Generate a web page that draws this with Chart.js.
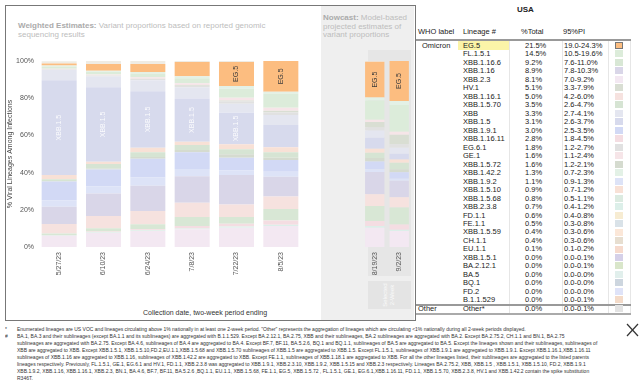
<!DOCTYPE html>
<html><head><meta charset="utf-8">
<script src="https://cdn.jsdelivr.net/npm/chart.js@4.4.0/dist/chart.umd.min.js"></script>
<style>
body{margin:0;width:640px;height:390px;background:#fff;overflow:hidden;font-family:"Liberation Sans",Arial,sans-serif;position:relative;color:#222}
.abs{position:absolute;white-space:nowrap}
.hdr{color:#bdbdbd;font-size:8px;line-height:8.6px}
.hdr b{color:#ababab}
.fn{position:absolute;left:5px;top:326px;width:1270px;height:124px;overflow:hidden;transform:scale(0.5);transform-origin:0 0;font-size:10px;line-height:14px;color:#333}
.fn div{white-space:nowrap;padding-left:24px;position:relative}
.fn span.m{position:absolute;left:0}
</style></head><body>
<div class="abs" style="left:5px;top:5px;width:411px;height:316px;border:1px solid #777;box-sizing:border-box"></div>
<div class="abs" style="left:321px;top:6px;width:93px;height:314px;background:#efefef"></div>
<div class="abs" style="left:368px;top:50px;width:43px;height:226px;background:#e6e6e6"></div>
<div class="abs" style="left:368px;top:281px;width:43px;height:28px;background:#e4e4e4"></div>
<div class="abs" style="left:389px;top:295px;transform:translate(-50%,-50%) rotate(-90deg);font-size:6px;line-height:7px;color:#fafafa;text-align:center">Selected<br>2-Week</div>
<div class="abs hdr" style="left:18px;top:22px"><b>Weighted Estimates:</b> Variant proportions based on reported genomic<br>sequencing results</div>
<div class="abs hdr" style="left:323px;top:14px"><b>Nowcast:</b> Model-based<br>projected estimates of<br>variant proportions</div>
<canvas id="cw" class="abs" style="left:0;top:0" width="318" height="300"></canvas>
<canvas id="cn" class="abs" style="left:321px;top:0" width="92" height="300"></canvas>
<div class="abs" style="left:205px;top:309px;transform:translateX(-50%);font-size:7px;color:#333">Collection date, two-week period ending</div>
<div id="tbl"></div>
<div class="fn" id="fn"></div>
<svg class="abs" style="left:626px;top:323px" width="13" height="14"><line x1="1" y1="1" x2="12" y2="13" stroke="#333" stroke-width="1.2"/><line x1="12" y1="1" x2="1" y2="13" stroke="#333" stroke-width="1.2"/></svg>
<script>
// ---- chart data ----
const weeksWeighted = ['5/27/23','6/10/23','6/24/23','7/8/23','7/22/23','8/5/23'];
const weeksNowcast = ['8/19/23','9/2/23'];
const yTicks = [0,20,40,60,80,100];
// stacked series (bottom to top), 8 periods: 6 weighted + 2 nowcast
const s_XBB_2_3     = [5.9, 7.7, 8.6, 9.5, 10.4, 11.3, 10.4, 8.6];
const s_XBB_2_3_8   = [0.3, 0.3, 0.4, 0.5, 0.6, 0.7, 0.9, 0.7];
const s_XBB_1_16_11 = [0.2, 0.3, 0.5, 1.3, 1.5, 2.3, 2.7, 2.8];
const s_XBB_1_16_6  = [0.9, 1.8, 2.7, 4.8, 3.6, 6.1, 8.0, 9.2];
const s_XBB_1_16_1  = [5.0, 6.6, 7.2, 7.7, 6.8, 6.8, 6.3, 5.4];
const s_XBB_1_16    = [9.3, 12.0, 13.5, 14.2, 15.8, 10.6, 12.0, 8.9];
const s_XBB_1_9_2   = [3.6, 4.0, 4.5, 3.9, 2.5, 2.7, 1.5, 1.1];
const s_XBB_1_9_1   = [10.0, 9.0, 10.0, 9.0, 6.8, 6.3, 4.2, 3.5];
const s_XBB_1_5_72  = [0.3, 0.5, 1.0, 1.3, 1.8, 1.2, 1.8, 1.6];
const s_XBB_1_5_70  = [0.9, 2.4, 2.6, 2.6, 2.7, 2.9, 2.9, 3.5];
const s_XBB_1_5_10  = [2.3, 1.3, 2.3, 1.8, 2.7, 2.7, 2.1, 1.7];
const s_XBB_1_5     = [51.0, 40.0, 30.5, 23.3, 17.0, 12.0, 5.9, 3.1];
const s_XBB         = [5.4, 5.7, 5.9, 5.9, 4.8, 5.4, 3.9, 3.3];
const s_EG_6_1      = [0.3, 0.5, 0.6, 0.8, 1.2, 1.3, 1.6, 1.8];
const s_HV_1        = [0.0, 0.1, 0.2, 0.4, 0.6, 1.0, 3.0, 5.1];
const s_GE_1        = [0.5, 0.6, 0.8, 1.0, 1.5, 1.5, 1.2, 1.6];
const s_FL_1_5_1    = [1.2, 1.4, 2.0, 2.7, 4.8, 7.7, 10.4, 14.5];
const s_XBB_1_42_2  = [0.5, 0.6, 0.8, 1.1, 1.5, 1.0, 1.6, 2.1];
const s_EG_5        = [1.0, 3.6, 4.3, 7.6, 12.9, 16.5, 19.2, 21.5];
const s_Other       = [1.2, 1.6, 1.6, 0.6, 0.5, 0.0, 0.4, 0.0];

// ---- table data ----
const tblLineages = ['EG.5','FL.1.5.1','XBB.1.16.6','XBB.1.16','XBB.2.3','HV.1','XBB.1.16.1','XBB.1.5.70','XBB','XBB.1.5','XBB.1.9.1','XBB.1.16.11','EG.6.1','GE.1','XBB.1.5.72','XBB.1.42.2','XBB.1.9.2','XBB.1.5.10','XBB.1.5.68','XBB.2.3.8','FD.1.1','FE.1.1','XBB.1.5.59','CH.1.1','EU.1.1','XBB.1.5.1','BA.2.12.1','BA.5','BQ.1','FD.2','B.1.1.529','Other*'];
const tblPct = ['21.5%','14.5%','9.2%','8.9%','8.1%','5.1%','5.0%','3.5%','3.3%','3.1%','3.0%','2.8%','1.8%','1.6%','1.6%','1.3%','1.1%','0.9%','0.8%','0.7%','0.6%','0.5%','0.4%','0.4%','0.1%','0.0%','0.0%','0.0%','0.0%','0.0%','0.0%','0.0%'];
const tblPI = ['19.0-24.3%','10.5-19.6%','7.6-11.0%','7.8-10.3%','7.0-9.2%','3.3-7.9%','4.2-6.0%','2.6-4.7%','2.7-4.1%','2.6-3.7%','2.5-3.5%','1.8-4.5%','1.2-2.7%','1.1-2.4%','1.2-2.1%','0.7-2.3%','0.9-1.3%','0.7-1.2%','0.5-1.1%','0.4-1.2%','0.4-0.8%','0.3-0.8%','0.3-0.6%','0.3-0.6%','0.1-0.2%','0.0-0.1%','0.0-0.1%','0.0-0.0%','0.0-0.0%','0.0-0.0%','0.0-0.1%','0.0-0.1%'];

// ---- styles ----
const colorOf = {
 'XBB.2.3':'#f3e8f2','XBB.2.3.8':'#dcefe9','XBB.1.16.11':'#f4dde2','XBB.1.16.6':'#d8e7d5','XBB.1.16.1':'#f6e2df',
 'XBB.1.16':'#d9d6e8','XBB.1.9.2':'#dde3f7','XBB.1.9.1':'#d2d9f5','XBB.1.5.72':'#d5dbcf','XBB.1.5.70':'#d6e4d3',
 'XBB.1.5.10':'#f8e1d6','XBB.1.5':'#d7daed','XBB':'#e4e6f0','EG.6.1':'#e1e1e1','HV.1':'#d9ded3','GE.1':'#f6e5e8',
 'FL.1.5.1':'#dcecda','XBB.1.42.2':'#e3f1e6','EG.5':'#fcbd80','Other':'#efece4','Other*':'#e3e3e3',
 'XBB.1.5.68':'#dcebe1','FD.1.1':'#f7ecd2','FE.1.1':'#d9e2e8','XBB.1.5.59':'#fbe7d8','CH.1.1':'#e7ded0','EU.1.1':'#f6dacd',
 'XBB.1.5.1':'#d5d0e8','BA.2.12.1':'#d9e6ca','BA.5':'#e1efec','BQ.1':'#cdd6df','FD.2':'#dfe3f8','B.1.1.529':'#f4dbc9'
};
const series = [
 ['XBB.2.3',s_XBB_2_3],['XBB.2.3.8',s_XBB_2_3_8],['XBB.1.16.11',s_XBB_1_16_11],['XBB.1.16.6',s_XBB_1_16_6],
 ['XBB.1.16.1',s_XBB_1_16_1],['XBB.1.16',s_XBB_1_16],['XBB.1.9.2',s_XBB_1_9_2],['XBB.1.9.1',s_XBB_1_9_1],
 ['XBB.1.5.72',s_XBB_1_5_72],['XBB.1.5.70',s_XBB_1_5_70],['XBB.1.5.10',s_XBB_1_5_10],['XBB.1.5',s_XBB_1_5],
 ['XBB',s_XBB],['EG.6.1',s_EG_6_1],['HV.1',s_HV_1],['GE.1',s_GE_1],['FL.1.5.1',s_FL_1_5_1],
 ['XBB.1.42.2',s_XBB_1_42_2],['EG.5',s_EG_5],['Other',s_Other]
];
const FONT = "'Liberation Sans', Arial, sans-serif";

const segLabels = {
 id:'segLabels',
 afterDatasetsDraw(chart){
   const ctx = chart.ctx;
   chart.data.datasets.forEach((ds,di)=>{
     if(ds.label!=='XBB.1.5' && ds.label!=='EG.5') return;
     const meta = chart.getDatasetMeta(di);
     meta.data.forEach((el,i)=>{
       if(ds.data[i] < 12.5) return;
       const cy = (el.y + el.base)/2;
       ctx.save();
       ctx.translate(el.x, cy);
       ctx.rotate(-Math.PI/2);
       ctx.font = '7px ' + FONT;
       ctx.fillStyle = ds.label==='EG.5' ? '#3a3a3a' : 'rgba(255,255,255,0.9)';
       ctx.textAlign='center'; ctx.textBaseline='middle';
       ctx.fillText(ds.label, 0, 0);
       ctx.restore();
     });
   });
 }
};

function makeChart(id, labels, from, to, showY, pad){
  return new Chart(document.getElementById(id), {
    type:'bar',
    data:{ labels, datasets: series.map(([name,arr])=>({
      label:name, data:arr.slice(from,to), backgroundColor:colorOf[name], borderWidth:0,
      barPercentage:0.79, categoryPercentage:1 })) },
    options:{
      responsive:false, animation:false, devicePixelRatio:1,
      layout:{padding:pad},
      plugins:{legend:{display:false}, tooltip:{enabled:false}},
      scales:{
        x:{stacked:true, grid:{display:false, drawTicks:false}, border:{display:false},
           ticks:{minRotation:90, maxRotation:90, padding:5, color:'#555', font:{size:7, family:FONT}},
           afterFit(s){ s.height = 53; }},
        y:{stacked:true, display:showY, min:0, max:100,
           afterBuildTicks(s){ s.ticks = yTicks.map(v=>({value:v})); },
           grid:{display:false, drawTicks:false}, border:{display:false},
           ticks:{padding:3, color:'#555', font:{size:7, family:FONT}, callback:v=>v+'%'},
           title:{display:true, text:'% Viral Lineages Among Infections', color:'#444', font:{size:7, family:FONT}, padding:{top:6,bottom:0}},
           afterFit(s){ s.width = 37; }}
      }
    },
    plugins:[segLabels]
  });
}
makeChart('cw', weeksWeighted, 0, 6, true, {top:61, right:15, left:0, bottom:0});
makeChart('cn', weeksNowcast, 6, 8, false, {top:61, right:1.5, left:4.5, bottom:0});

// ---- table ----
(function(){
  const t = document.getElementById('tbl');
  let h = '';
  const add = (s)=>{ h += s; };
  add('<div class="abs" style="left:517px;top:5px;font-size:8px;font-weight:bold">USA</div>');
  const hy = 27;
  add(`<div class="abs" style="left:418px;top:${hy}px;font-size:7.5px">WHO label</div>`);
  add(`<div class="abs" style="left:463px;top:${hy}px;font-size:7.5px">Lineage #</div>`);
  add(`<div class="abs" style="left:521px;top:${hy}px;font-size:7.5px">%Total</div>`);
  add(`<div class="abs" style="left:563px;top:${hy}px;font-size:7.5px">95%PI</div>`);
  add('<div class="abs" style="left:458px;top:41px;width:51px;height:8.5px;background:#fbf4a8"></div>');
  [509,562,608,630].forEach(x=>add(`<div class="abs" style="left:${x}px;top:41px;width:1px;height:272px;background:#e6e6e6"></div>`));
  add('<div class="abs" style="left:416px;top:39px;width:215px;height:2px;background:#999"></div>');
  add('<div class="abs" style="left:416px;top:303.5px;width:215px;height:2px;background:#999"></div>');
  add('<div class="abs" style="left:416px;top:312.5px;width:215px;height:2px;background:#aaa"></div>');
  tblLineages.forEach((ln,i)=>{
    const cy = i<31 ? 45.5 + i*8.48 : 308.7;
    const top = cy - 4.6;
    const st = `top:${top}px;font-size:7.5px;line-height:9px`;
    if(i===0) add(`<div class="abs" style="left:422px;${st}">Omicron</div>`);
    if(i===31) add(`<div class="abs" style="left:418px;${st}">Other</div>`);
    add(`<div class="abs" style="left:463px;${st}">${ln}</div>`);
    add(`<div class="abs" style="left:525px;${st}">${tblPct[i]}</div>`);
    add(`<div class="abs" style="left:564px;${st}">${tblPI[i]}</div>`);
    const bd = i===0 ? 'border:1px solid #777;box-sizing:border-box;' : '';
    add(`<div class="abs" style="left:615px;top:${cy-3.5}px;width:8px;height:7px;background:${colorOf[ln]};${bd}"></div>`);
  });
  t.innerHTML = h;
})();

// ---- footnotes ----
(function(){
  const lines = [
   ['*','Enumerated lineages are US VOC and lineages circulating above 1% nationally in at least one 2-week period. "Other" represents the aggregation of lineages which are circulating <1% nationally during all 2-week periods displayed.'],
   ['#','BA.1, BA.3 and their sublineages (except BA.1.1 and its sublineages) are aggregated with B.1.1.529. Except BA.2.12.1, BA.2.75, XBB and their sublineages, BA.2 sublineages are aggregated with BA.2. Except BA.2.75.2, CH.1.1 and BN.1, BA.2.75'],
   ['','sublineages are aggregated with BA.2.75. Except BA.4.6, sublineages of BA.4 are aggregated to BA.4. Except BF.7, BF.11, BA.5.2.6, BQ.1 and BQ.1.1, sublineages of BA.5 are aggregated to BA.5. Except the lineages shown and their sublineages, sublineages of'],
   ['','XBB are aggregated to XBB. Except XBB.1.5.1, XBB.1.5.10,FD.2,EU.1.1,XBB.1.5.68 and XBB.1.5.70 sublineages of XBB.1.5 are aggregated to XBB.1.5. Except FL.1.5.1, sublineages of XBB.1.9.1 are aggregated to XBB.1.9.1. Except XBB.1.16.1,XBB.1.16.11'],
   ['','sublineages of XBB.1.16 are aggregated to XBB.1.16, sublineages of XBB.1.42.2 are aggregated to XBB. Except FE.1.1, sublineages of XBB.1.18.1 are aggregated to XBB. For all the other lineages listed, their sublineages are aggregated to the listed parents'],
   ['','lineages respectively. Previously, FL.1.5.1, GE.1, EG.6.1 and HV.1, FD.1.1, XBB.2.3.8 was aggregated to XBB.1.9.1, XBB.2.3.10, XBB.1.9.2, XBB.1.5.15 and XBB.2.3 respectively. Lineages BA.2.75.2, XBB, XBB.1.5 , XBB.1.5.1, XBB.1.5.10, FD.2, XBB.1.9.1'],
   ['','XBB.1.9.2, XBB.1.16, XBB.1.16.1, XBB.2.3, BN.1, BA.4.6, BF.7, BF.11, BA.5.2.6 ,BQ.1.1, EU.1.1, XBB.1.5.68, FE.1.1, EG.5, XBB.1.5.72 , FL.1.5.1, GE.1, EG.6.1,XBB.1.16.11, FD.1.1, XBB.1.5.70, XBB.2.3.8, HV.1 and XBB.1.42.2 contain the spike substitution'],
   ['','R346T.']
  ];
  const esc = s=>s.replace(/&/g,'&amp;').replace(/</g,'&lt;');
  document.getElementById('fn').innerHTML = lines.map(([m,t])=>`<div><span class="m">${m}</span>${esc(t)}</div>`).join('');
})();
</script>
</body></html>
